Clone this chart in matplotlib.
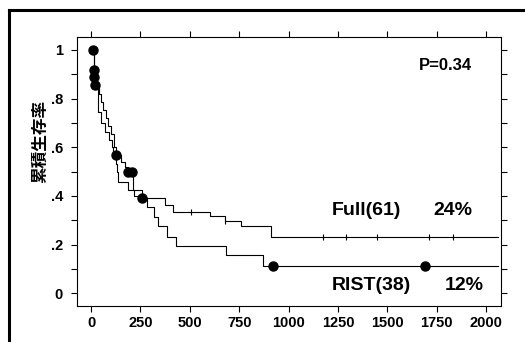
import matplotlib
matplotlib.use("Agg")
import matplotlib.pyplot as plt
from matplotlib.lines import Line2D
from matplotlib.ticker import MultipleLocator

# Kaplan-Meier steps (days, survival)
full_t = [0, 17, 20, 25, 40, 50, 62, 75, 85, 100, 115, 125, 150, 170, 185, 214, 256, 375, 417, 602, 678, 757, 909, 2060]
full_s = [1.0, 0.918, 0.89, 0.855, 0.82, 0.787, 0.754, 0.721, 0.689, 0.656, 0.60, 0.568, 0.54, 0.52, 0.50, 0.425, 0.393, 0.363, 0.335, 0.318, 0.297, 0.277, 0.233, 0.233]

rist_t = [0, 17, 20, 25, 34, 51, 71, 90, 105, 113, 125, 130, 138, 189, 215, 245, 282, 321, 341, 386, 430, 683, 871, 2060]
rist_s = [1.0, 0.918, 0.89, 0.855, 0.746, 0.70, 0.664, 0.63, 0.60, 0.555, 0.53, 0.50, 0.459, 0.425, 0.40, 0.393, 0.356, 0.315, 0.277, 0.23, 0.194, 0.157, 0.114, 0.114]

# big circles
circ_t = [12, 17, 17, 22, 125, 185, 205, 256, 923, 1690]
circ_s = [1.0, 0.918, 0.89, 0.855, 0.568, 0.50, 0.50, 0.393, 0.114, 0.114]

# censor ticks on the Full curve
cens_t = [506, 678, 1174, 1290, 1446, 1711, 1830]
cens_s = [0.335, 0.297, 0.233, 0.233, 0.233, 0.233, 0.233]

xticks = [0, 250, 500, 750, 1000, 1250, 1500, 1750, 2000]
yticks = [0, 0.2, 0.4, 0.6, 0.8, 1.0]
ylabels = ["0", ".2", ".4", ".6", ".8", "1"]

fig = plt.figure(figsize=(5.25, 3.42), dpi=100)
ax = fig.add_axes([77/525, 1-306/342, 424/525, 269/342])

ax.step(full_t, full_s, where="post", color="black", lw=0.8)
ax.step(rist_t, rist_s, where="post", color="black", lw=0.8)
ax.plot(circ_t, circ_s, "o", color="black", ms=6.5, ls="none")
ax.plot(cens_t, cens_s, "|", color="black", ms=4, mew=0.8, ls="none")

ax.set_xlim(-71, 2075)
ax.set_ylim(-0.052, 1.053)

ax.set_xticks(xticks)
ax.set_yticks(yticks)
ax.set_yticklabels(ylabels)
ax.yaxis.set_minor_locator(MultipleLocator(0.1))
ax.tick_params(axis="both", which="both", direction="out", length=4, width=0.8,
               top=True, right=True, labelsize=10.5, pad=3)
ax.tick_params(axis="y", pad=6)
for lab in ax.get_xticklabels() + ax.get_yticklabels():
    lab.set_fontweight("bold")
    lab.set_family("Liberation Sans")
for sp in ax.spines.values():
    sp.set_linewidth(0.8)

ax.set_ylabel("累積生存率", family=["Noto Sans CJK JP", "DejaVu Sans"], fontweight="bold", fontsize=12)
ax.yaxis.set_label_coords(-0.066, 0.613)

ax.text(1792, 0.934, "P=0.34", ha="center", va="center", fontsize=12, fontweight="bold", family="Liberation Sans")
ax.text(1220, 0.342, "Full(61)", ha="left", va="center", fontsize=14, fontweight="bold", family="Liberation Sans")
ax.text(1928, 0.342, "24%", ha="right", va="center", fontsize=14, fontweight="bold", family="Liberation Sans")
ax.text(1220, 0.032, "RIST(38)", ha="left", va="center", fontsize=14, fontweight="bold", family="Liberation Sans")
ax.text(1989, 0.032, "12%", ha="right", va="center", fontsize=14, fontweight="bold", family="Liberation Sans")

# outer frame, only top and left edges show in the scan
fig.add_artist(Line2D([8.5/525, 8.5/525], [0, 1-9.5/342], transform=fig.transFigure, color="black", lw=2.2))
fig.add_artist(Line2D([8.5/525, 1], [1-9.5/342, 1-9.5/342], transform=fig.transFigure, color="black", lw=2.2))

fig.savefig("out.png", dpi=100)
